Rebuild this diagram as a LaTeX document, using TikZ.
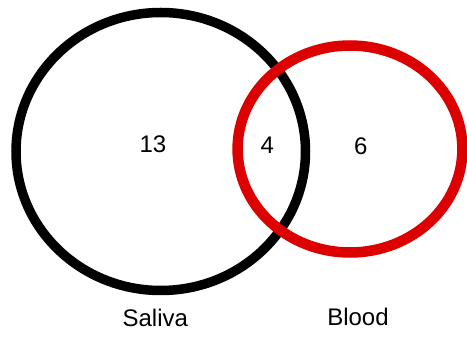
\documentclass[tikz,border=0pt]{standalone}
\usepackage{fontspec}
\setmainfont{Liberation Sans}
\definecolor{bloodred}{HTML}{DD0000}
\begin{document}
\begin{tikzpicture}[x=1pt,y=-1pt,
  setring/.style={line width=#1},
  lbl/.style={anchor=base,inner sep=0pt,font=\fontsize{24}{24}\selectfont}]
\useasboundingbox (0,0) rectangle (467,339);
\draw[setring=9.5pt,black] (160.75,151.5) ellipse [x radius=144.75, y radius=139];
\draw[setring=10.5pt,bloodred] (350,149) ellipse [x radius=112.4, y radius=103.5];
\node[lbl] (n13) at (153,153) {13};
\node[lbl] (n4) at (267.3,154) {4};
\node[lbl] (n6) at (360.7,155) {6};
\node[lbl] (saliva) at (155.3,327) {Saliva};
\node[lbl] (blood) at (358,326) {Blood};
\end{tikzpicture}
\end{document}
